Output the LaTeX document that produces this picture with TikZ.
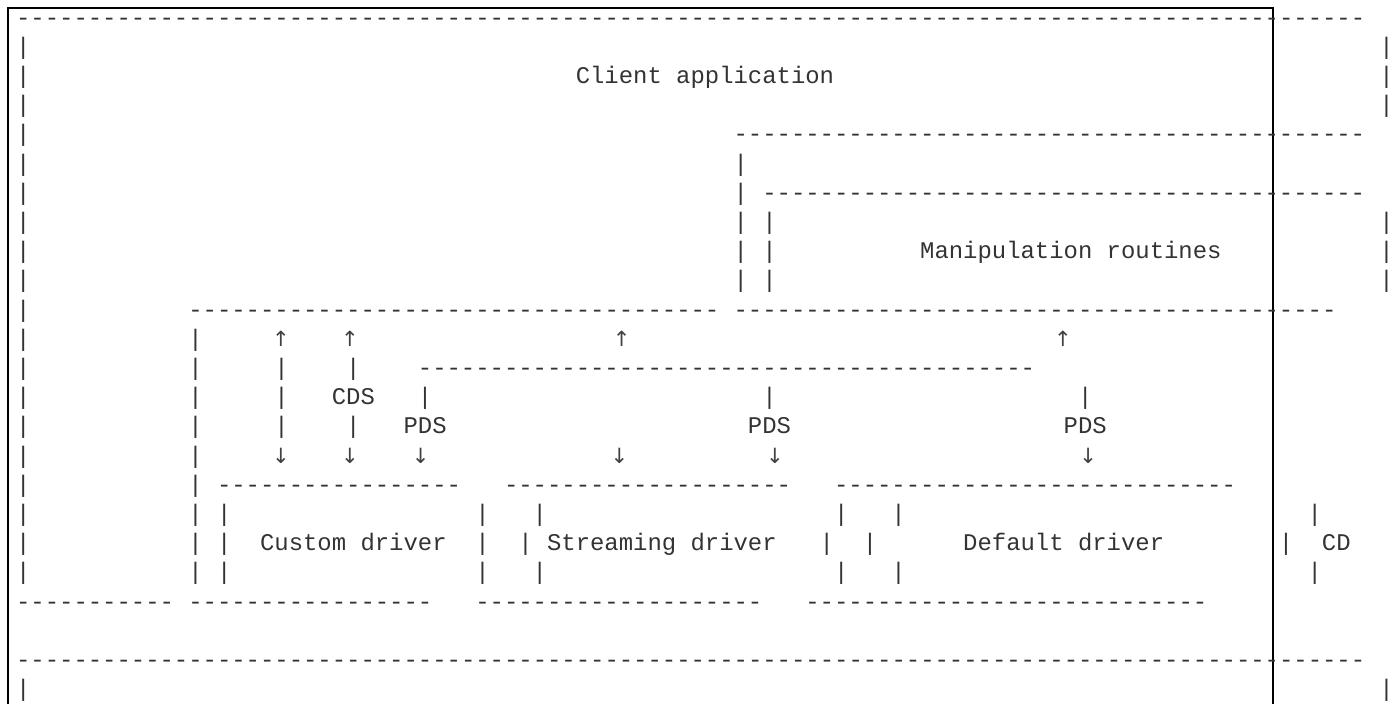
\documentclass[tikz,border=0pt]{standalone}
\usepackage{fontspec}
\newfontfamily\ascfont{Liberation Mono}[Ligatures=TeXOff]
\newfontfamily\arrfont{DejaVu Sans}
\newcommand\dashrun[1]{\foreach\d in {1,...,#1}{-}}
\tikzset{
	asc/.style={font=\ascfont\fontsize{23.92pt}{29.2pt}\selectfont,text=black!80,
		inner sep=0pt,outer sep=0pt,anchor=base west},
	arr/.style={asc,anchor=base,font=\arrfont\fontsize{21pt}{29.2pt}\selectfont,text=black!75},
	pageframe/.style={line width=1.2pt,black}
}
\begin{document}
\begin{tikzpicture}[x=14.35pt,y=-29.2pt]
	\useasboundingbox (-1.122,-0.8596) rectangle (95.882,23.25);
	% page frame, cut off at the bottom
	\coordinate (fa) at (-0.5645,23.25);
	\coordinate (fb) at (-0.5645,-0.5856);
	\coordinate (fc) at (87.589,-0.5856);
	\coordinate (fd) at (87.589,23.25);
	\draw[pageframe] (fa) -- (fb) -- (fc) -- (fd);
	% client application
	\node[asc] (ctop) at (0,0) {\dashrun{94}};
	\foreach \r in {1,...,19,23}
		\node[asc] (cl\r) at (0,\r) {|};
	\foreach \r in {1,2,3,7,8,9,23}
		\node[asc] (cr\r) at (95,\r) {|};
	\node[asc] (client) at (39,2) {Client application};
	% manipulation routines
	\node[asc] (mtop) at (50,4) {\dashrun{44}};
	\foreach \r in {5,...,9}
		\node[asc] (ml\r) at (50,\r) {|};
	\node[asc] (mtopin) at (52,6) {\dashrun{42}};
	\foreach \r in {7,8,9}
		\node[asc] (mli\r) at (52,\r) {|};
	\node[asc] (manip) at (63,8) {Manipulation routines};
	\node[asc] (mbot) at (50,10) {\dashrun{42}};
	% driver layer
	\node[asc] (dtop) at (12,10) {\dashrun{37}};
	\foreach \r in {11,...,19}
		\node[asc] (dl\r) at (12,\r) {|};
	\node[arr] (upa) at (18.46,11) {↑};
	\node[arr] (upb) at (23.27,11) {↑};
	\node[arr] (upc) at (42.2,11) {↑};
	\node[arr] (upd) at (72.95,11) {↑};
	\foreach \r in {12,13,14}
		\node[asc] (sa\r) at (18,\r) {|};
	\node[asc] (sb12) at (23,12) {|};
	\node[asc] (sb14) at (23,14) {|};
	\node[asc] (cds) at (22,13) {CDS};
	\node[asc] (pbar) at (28,12) {\dashrun{43}};
	\node[asc] (sc13) at (28,13) {|};
	\node[asc] (sd13) at (52,13) {|};
	\node[asc] (se13) at (74,13) {|};
	\node[asc] (pdsa) at (27,14) {PDS};
	\node[asc] (pdsb) at (51,14) {PDS};
	\node[asc] (pdsc) at (73,14) {PDS};
	\node[arr] (dna) at (18.46,15) {↓};
	\node[arr] (dnb) at (23.27,15) {↓};
	\node[arr] (dnc) at (28.2,15) {↓};
	\node[arr] (dnd) at (42.05,15) {↓};
	\node[arr] (dne) at (52.88,15) {↓};
	\node[arr] (dnf) at (74.7,15) {↓};
	% drivers
	\node[asc] (custtop) at (14,16) {\dashrun{17}};
	\node[asc] (strtop) at (34,16) {\dashrun{20}};
	\node[asc] (deftop) at (57,16) {\dashrun{28}};
	\foreach \r in {17,18,19}
		\node[asc] (cul\r) at (14,\r) {|};
	\foreach \c/\n in {32/a,36/b,57/c,61/d,90/e}{
		\node[asc] (bar\n17) at (\c,17) {|};
		\node[asc] (bar\n19) at (\c,19) {|};
	}
	\node[asc] (custom) at (17,18) {Custom driver};
	\node[asc] (bara18) at (32,18) {|};
	\node[asc] (barb18) at (35,18) {|};
	\node[asc] (stream) at (37,18) {Streaming driver};
	\node[asc] (barc18) at (56,18) {|};
	\node[asc] (bard18) at (59,18) {|};
	\node[asc] (default) at (66,18) {Default driver};
	\node[asc] (bare18) at (88,18) {|};
	\node[asc] (cd) at (91,18) {CD};
	\node[asc] (cbot) at (0,20) {\dashrun{11}};
	\node[asc] (custbot) at (12,20) {\dashrun{17}};
	\node[asc] (strbot) at (32,20) {\dashrun{20}};
	\node[asc] (defbot) at (55,20) {\dashrun{28}};
	% next box
	\node[asc] (ntop) at (0,22) {\dashrun{94}};
\end{tikzpicture}
\end{document}
